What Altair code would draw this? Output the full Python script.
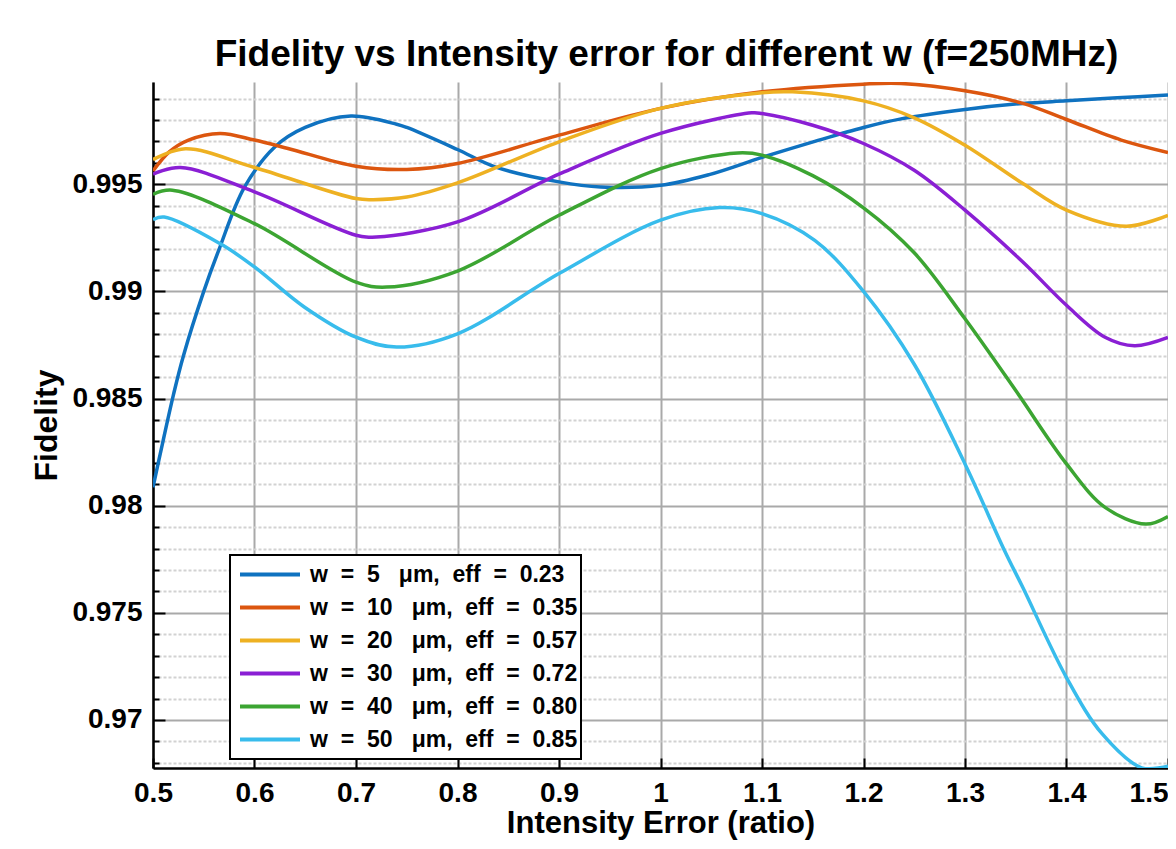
import altair as alt
import pandas as pd

series_names = [
    "w\u00a0\u00a0=\u00a0\u00a05\u00a0\u00a0\u00a0\u03bcm,\u00a0\u00a0eff\u00a0\u00a0=\u00a0\u00a00.23",
    "w\u00a0\u00a0=\u00a0\u00a010\u00a0\u00a0\u00a0\u03bcm,\u00a0\u00a0eff\u00a0\u00a0=\u00a0\u00a00.35",
    "w\u00a0\u00a0=\u00a0\u00a020\u00a0\u00a0\u00a0\u03bcm,\u00a0\u00a0eff\u00a0\u00a0=\u00a0\u00a00.57",
    "w\u00a0\u00a0=\u00a0\u00a030\u00a0\u00a0\u00a0\u03bcm,\u00a0\u00a0eff\u00a0\u00a0=\u00a0\u00a00.72",
    "w\u00a0\u00a0=\u00a0\u00a040\u00a0\u00a0\u00a0\u03bcm,\u00a0\u00a0eff\u00a0\u00a0=\u00a0\u00a00.80",
    "w\u00a0\u00a0=\u00a0\u00a050\u00a0\u00a0\u00a0\u03bcm,\u00a0\u00a0eff\u00a0\u00a0=\u00a0\u00a00.85",
]
series_colors = ["#0F72C0", "#DC560F", "#EEB122", "#8A1FD4", "#3CA532", "#38BCEC"]

w5_x = [0.50, 0.51, 0.52, 0.53, 0.55, 0.565, 0.59, 0.62, 0.65, 0.695, 0.74, 0.75, 0.80, 0.837,
        0.90, 0.941, 1.00, 1.048, 1.10, 1.152, 1.20, 1.237, 1.30, 1.357, 1.40, 1.45, 1.50]
w5_y = [0.98086, 0.98304, 0.98515, 0.98700, 0.99000, 0.99195, 0.99485, 0.99674, 0.99765, 0.99818,
        0.99780, 0.99765, 0.99662, 0.99581, 0.99511, 0.99487, 0.99495, 0.99545, 0.99625, 0.99700,
        0.99765, 0.99805, 0.99849, 0.99877, 0.99889, 0.99903, 0.99916]

w10_x = [0.50, 0.516, 0.535, 0.566, 0.60, 0.633, 0.70, 0.75, 0.80, 0.90, 1.00, 1.10, 1.20, 1.237,
         1.30, 1.357, 1.40, 1.454, 1.50]
w10_y = [0.99562, 0.99651, 0.99706, 0.99737, 0.99706, 0.99667, 0.99584, 0.99569, 0.99597, 0.99729,
         0.99854, 0.99931, 0.99967, 0.99970, 0.99936, 0.99877, 0.99802, 0.99706, 0.99648]

w20_x = [0.50, 0.532, 0.60, 0.70, 0.717, 0.75, 0.80, 0.90, 1.00, 1.10, 1.13, 1.20, 1.25, 1.30,
         1.357, 1.40, 1.459, 1.50]
w20_y = [0.99615, 0.99665, 0.99578, 0.99433, 0.99428, 0.99440, 0.99506, 0.99698, 0.99854, 0.99927,
         0.99931, 0.99889, 0.99810, 0.99682, 0.99503, 0.99379, 0.99304, 0.99355]

w30_x = [0.50, 0.527, 0.60, 0.70, 0.72, 0.80, 0.90, 1.00, 1.09, 1.10, 1.15, 1.20, 1.25, 1.30,
         1.357, 1.40, 1.438, 1.467, 1.50]
w30_y = [0.99547, 0.99578, 0.99464, 0.99262, 0.99254, 0.99324, 0.99547, 0.99737, 0.99833, 0.99830,
         0.99775, 0.99690, 0.99565, 0.99379, 0.99137, 0.98935, 0.98786, 0.98746, 0.98785]

w40_x = [0.50, 0.519, 0.60, 0.70, 0.73, 0.80, 0.90, 1.00, 1.076, 1.10, 1.15, 1.20, 1.25, 1.30,
         1.35, 1.40, 1.438, 1.478, 1.50]
w40_y = [0.99453, 0.99472, 0.99316, 0.99043, 0.99020, 0.99095, 0.99355, 0.99573, 0.99646, 0.99636,
         0.99540, 0.99390, 0.99180, 0.98872, 0.98537, 0.98195, 0.97992, 0.97914, 0.97950]

w50_x = [0.50, 0.511, 0.566, 0.60, 0.649, 0.70, 0.74, 0.80, 0.90, 1.00, 1.058, 1.10, 1.152, 1.20,
         1.25, 1.30, 1.339, 1.357, 1.40, 1.435, 1.474, 1.50]
w50_y = [0.99335, 0.99347, 0.99223, 0.99114, 0.98927, 0.98786, 0.98740, 0.98802, 0.99083, 0.99332,
         0.99391, 0.99363, 0.99238, 0.99000, 0.98660, 0.98195, 0.97790, 0.97618, 0.97198, 0.96936,
         0.96777, 0.96785]

x_ticks = [0.5, 0.6, 0.7, 0.8, 0.9, 1.0, 1.1, 1.2, 1.3, 1.4, 1.5]
y_major = [0.97, 0.975, 0.98, 0.985, 0.99, 0.995]
y_all = [round(0.968 + 0.001 * k, 3) for k in range(32)]
y_minor = [v for v in y_all if v not in y_major]

x_domain = [0.5, 1.5]
y_domain = [0.96776, 0.99977]

rows = []
for name, xs, ys in zip(series_names,
                        [w5_x, w10_x, w20_x, w30_x, w40_x, w50_x],
                        [w5_y, w10_y, w20_y, w30_y, w40_y, w50_y]):
    for xv, yv in zip(xs, ys):
        rows.append({"series": name, "ratio": xv, "fidelity": yv})
df = pd.DataFrame(rows)

FONT = "Liberation Sans"
major_test = "abs(datum.value*200 - round(datum.value*200)) < 0.01"

x_scale = alt.Scale(domain=x_domain, nice=False, zero=False)
y_scale = alt.Scale(domain=y_domain, nice=False, zero=False)

base = alt.Chart(df)

lines = base.mark_line(strokeWidth=3.5, clip=True, interpolate="catmull-rom").encode(
    x=alt.X("ratio:Q", scale=x_scale, axis=alt.Axis(
        values=x_ticks, labelExpr="toString(round(datum.value*10)/10)",
        labelAlign={"condition": {"test": "datum.value > 1.45", "value": "right"},
                    "value": "center"},
        title="Intensity Error (ratio)", grid=True, gridColor="#a9a9a9", gridWidth=2,
        ticks=False, domainColor="black", domainWidth=2.5, labelFont=FONT, labelFontSize=28,
        labelFontWeight="bold", labelColor="black", labelPadding=11, labelFlush=False,
        labelOverlap=False, titleFont=FONT, titleFontSize=31, titleFontWeight="bold",
        titleColor="black", titlePadding=1)),
    y=alt.Y("fidelity:Q", scale=y_scale, axis=alt.Axis(
        values=y_all,
        labelExpr=major_test + " ? toString(round(datum.value*1000)/1000) : ''",
        title="Fidelity", grid=True,
        gridColor={"condition": {"test": major_test, "value": "#a9a9a9"}, "value": "#d2d2d2"},
        gridDash={"condition": {"test": major_test, "value": []}, "value": [3, 2]},
        gridWidth=2, ticks=False, domainColor="black", domainWidth=2.5, labelFont=FONT,
        labelFontSize=28, labelFontWeight="bold", labelColor="black", labelPadding=11,
        labelFlush=False, labelOverlap=False, titleFont=FONT, titleFontSize=32,
        titleFontWeight="bold", titleColor="black", titlePadding=8)),
    color=alt.Color("series:N", scale=alt.Scale(domain=series_names, range=series_colors),
                    legend=alt.Legend(
                        title=None, orient="none", legendX=77, legendY=473,
                        fillColor="white", strokeColor="black", padding=3, clipHeight=33,
                        rowPadding=0, symbolType="stroke", symbolSize=3600,
                        symbolStrokeWidth=4, symbolOffset=5, labelOffset=8,
                        labelFont=FONT, labelFontSize=23, labelFontWeight="bold",
                        labelColor="black", labelLimit=600, cornerRadius=0)),
)

ticks_major = base.mark_line(strokeOpacity=0).encode(
    x=alt.X("ratio:Q", scale=x_scale, axis=alt.Axis(
        orient="bottom", offset=-10, tickSize=10, tickWidth=2, tickColor="black",
        values=x_ticks, labels=False, domain=False, grid=False, title=None)),
    y=alt.Y("fidelity:Q", scale=y_scale, axis=alt.Axis(
        orient="left", offset=-12, tickSize=12, tickWidth=2, tickColor="black",
        values=y_major, labels=False, domain=False, grid=False, title=None)),
)

ticks_minor = base.mark_line(strokeOpacity=0).encode(
    x=alt.X("ratio:Q", scale=x_scale, axis=None),
    y=alt.Y("fidelity:Q", scale=y_scale, axis=alt.Axis(
        orient="left", offset=-6, tickSize=6, tickWidth=2, tickColor="black",
        values=y_minor, labels=False, domain=False, grid=False, title=None)),
)

chart = alt.layer(lines, ticks_major, ticks_minor).resolve_axis(
    x="independent", y="independent"
).properties(
    width=1015, height=686,
    padding={"left": 145, "top": 74, "right": 0, "bottom": 73},
    autosize=alt.AutoSizeParams(type="none"),
    title=alt.TitleParams(
        text="Fidelity vs Intensity error for different w (f=250MHz)",
        font=FONT, fontSize=37, fontWeight="bold", color="black",
        anchor="middle", offset=8, dx=6),
).configure_view(stroke=None).configure_legend(strokeWidth=2)

chart.save("out.html", embed_options={"renderer": "svg", "actions": False})
